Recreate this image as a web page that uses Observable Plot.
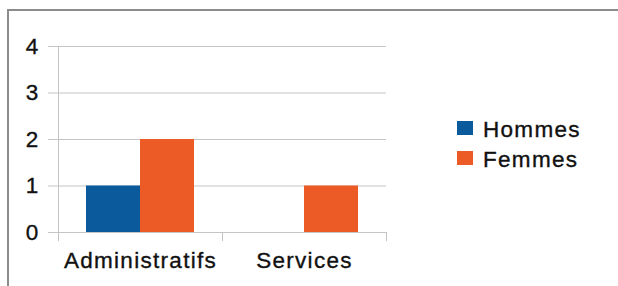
<!DOCTYPE html>
<html>
<head>
<meta charset="utf-8">
<script src="https://cdn.jsdelivr.net/npm/d3@7"></script>
<script src="https://cdn.jsdelivr.net/npm/@observablehq/plot@0.6"></script>
<style>
  html, body { margin: 0; padding: 0; background: #fff; }
  #wrap { position: relative; width: 618px; height: 286px; overflow: hidden; background: #fff;
          font-family: "Liberation Sans", Arial, sans-serif; }
  #border { position: absolute; left: 7px; top: 9px; width: 700px; height: 400px;
            border-top: 2px solid #8c8c8c; border-left: 2px solid #8c8c8c; }
  #chart { position: absolute; left: 0; top: 0; }
  #chart svg text { stroke: #111; stroke-width: 0.35px; }
  .leg { position: absolute; left: 457px; font-size: 22.5px; letter-spacing: 1.3px; line-height: 22px; color: #111;
         -webkit-text-stroke: 0.35px #111; }
  .leg .sw { position: absolute; left: 0; top: 1px; width: 16px; height: 14px; -webkit-text-stroke: 0; }
  .leg .lb { position: absolute; left: 26px; top: -1px; white-space: nowrap; }
</style>
</head>
<body>
<div id="wrap">
  <div id="border"></div>
  <div id="chart"></div>
  <div id="legend"></div>
</div>
<script>
const categories = ["Administratifs", "Services"];
const series = ["Hommes", "Femmes"];
const hommes = [1, 0];
const femmes = [2, 1];
const yTicks = [0, 1, 2, 3, 4];
const colors = ["#0a5a9c", "#ec5b26"];
const gridColor = "#c4c4c4";

const data = categories.flatMap((c, i) => [
  {category: c, sex: series[0], value: hommes[i]},
  {category: c, sex: series[1], value: femmes[i]}
]);

const chart = Plot.plot({
  width: 618,
  height: 286,
  marginLeft: 57,
  marginRight: 232,
  marginTop: 46,
  marginBottom: 54,
  style: {fontFamily: '"Liberation Sans", Arial, sans-serif', fontSize: "22.5px", color: "#111",
          background: "transparent", letterSpacing: "1.3px", overflow: "visible"},
  fx: {domain: categories, padding: 0, label: null},
  x: {domain: series, paddingInner: 0, paddingOuter: 0.5, axis: null},
  y: {domain: [0, 4], axis: null},
  color: {domain: series, range: colors},
  marks: [
    Plot.gridY(yTicks, {stroke: gridColor, strokeOpacity: 1}),
    Plot.axisY(yTicks, {anchor: "left", tickSize: 10, tickPadding: 9, stroke: gridColor,
                        strokeOpacity: 1, label: null, fontSize: 22.5}),
    Plot.frame({anchor: "left", facetAnchor: "left", stroke: gridColor, strokeOpacity: 1}),
    Plot.barY(data, {fx: "category", x: "sex", y: "value", fill: "sex"}),
    Plot.axisFx({anchor: "bottom", tickSize: 0, tickPadding: 20, label: null, fontSize: 22.5})
  ]
});
document.getElementById("chart").appendChild(chart);

// category boundary ticks below the baseline, from the fx / y scales
const fx = chart.scale("fx");
const ys = chart.scale("y");
const bounds = categories.map(c => fx.apply(c)).concat([fx.apply(categories[categories.length - 1]) + fx.bandwidth]);
const y0 = ys.apply(0);
d3.select(chart).append("g")
  .attr("stroke", gridColor)
  .selectAll("line").data(bounds).join("line")
  .attr("x1", d => Math.round(d) + 0.5).attr("x2", d => Math.round(d) + 0.5)
  .attr("y1", y0).attr("y2", y0 + 9);

// legend
const leg = document.getElementById("legend");
series.forEach((s, i) => {
  const row = document.createElement("div");
  row.className = "leg";
  row.style.top = (120 + i * 30) + "px";
  row.innerHTML = `<span class="sw" style="background:${colors[i]}"></span><span class="lb">${s}</span>`;
  leg.appendChild(row);
});
</script>
</body>
</html>
